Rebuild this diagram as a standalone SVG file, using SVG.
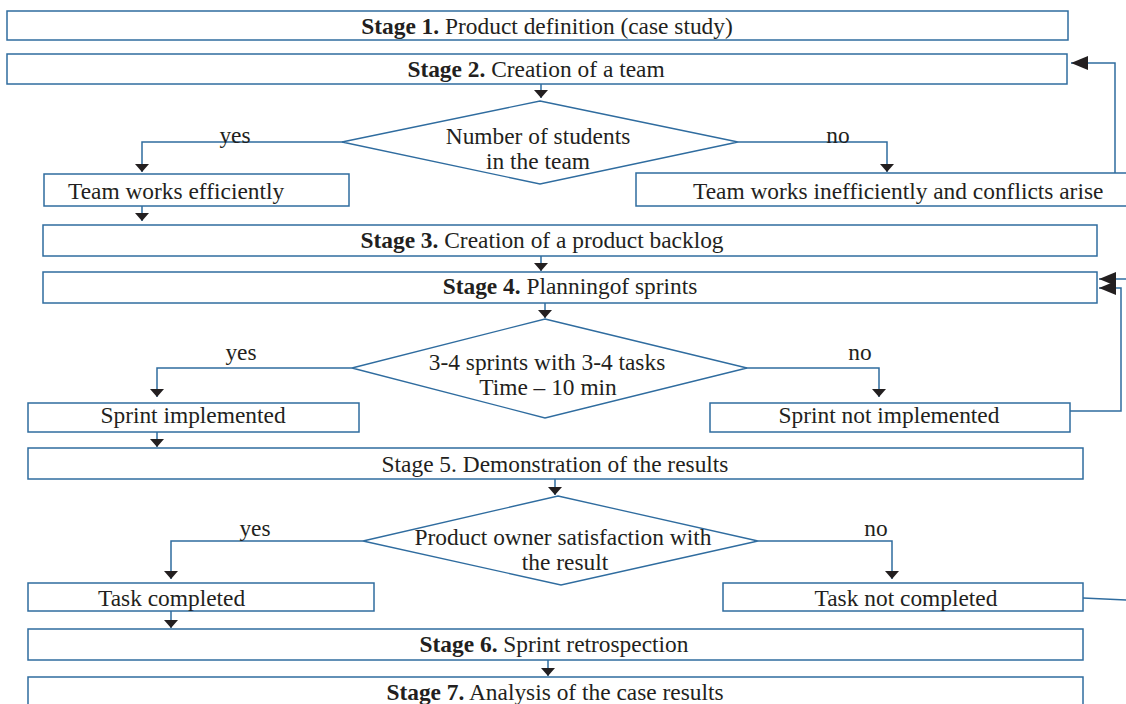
<svg xmlns="http://www.w3.org/2000/svg" width="1126" height="704" viewBox="0 0 1126 704">
<style>
.box{fill:#fff;stroke:#2f6c9f;stroke-width:1.5}
.dia{fill:#fff;stroke:#2f6c9f;stroke-width:1.3}
.ln{fill:none;stroke:#2f6c9f;stroke-width:1.5}
text{font-family:"Liberation Serif","Times New Roman",serif;font-size:23.4px;fill:#231f20}
.b{font-weight:bold}
.m{text-anchor:middle}
</style>
<defs>
<marker id="ah" viewBox="0 0 10 10" refX="10" refY="5" markerWidth="8" markerHeight="14" markerUnits="userSpaceOnUse" orient="auto" preserveAspectRatio="none">
<path d="M0,0 L10,5 L0,10 z" fill="#231f20"/>
</marker>
<marker id="ahl" viewBox="0 0 10 10" refX="10" refY="5" markerWidth="17" markerHeight="14" markerUnits="userSpaceOnUse" orient="auto" preserveAspectRatio="none">
<path d="M0,0 L10,5 L0,10 z" fill="#231f20"/>
</marker>
</defs>
<rect width="1126" height="704" fill="#fff"/>
<g id="connectors">
<path class="ln" d="M541,84 V98" marker-end="url(#ah)"/>
<path class="ln" d="M343,142 H142 V172" marker-end="url(#ah)"/>
<path class="ln" d="M738,142 H887 V172" marker-end="url(#ah)"/>
<path class="ln" d="M142,206 V221" marker-end="url(#ah)"/>
<path class="ln" d="M1115,173 V63 H1071" marker-end="url(#ahl)"/>
<path class="ln" d="M541,256 V271" marker-end="url(#ah)"/>
<path class="ln" d="M545,303 V318" marker-end="url(#ah)"/>
<path class="ln" d="M352,368 H157 V397" marker-end="url(#ah)"/>
<path class="ln" d="M746,368 H879 V397" marker-end="url(#ah)"/>
<path class="ln" d="M1070,411 H1121 V288 H1099" marker-end="url(#ahl)"/>
<path class="ln" d="M1128,279 H1099" marker-end="url(#ahl)"/>
<path class="ln" d="M157,432 V447" marker-end="url(#ah)"/>
<path class="ln" d="M555,479 V495" marker-end="url(#ah)"/>
<path class="ln" d="M363,541 H171 V579" marker-end="url(#ah)"/>
<path class="ln" d="M758,541 H892 V579" marker-end="url(#ah)"/>
<path class="ln" d="M1083,598 L1128,600"/>
<path class="ln" d="M171,611 V628" marker-end="url(#ah)"/>
<path class="ln" d="M548,660 V676" marker-end="url(#ah)"/>
</g>
<g id="stage1">
<rect class="box" x="7" y="11" width="1061" height="29"/>
<text class="m" x="547" y="34"><tspan class="b">Stage 1.</tspan> Product definition (case study)</text>
</g>
<g id="stage2">
<rect class="box" x="7" y="54" width="1060" height="30"/>
<text class="m" x="536" y="77"><tspan class="b">Stage 2.</tspan> Creation of a team</text>
</g>
<g id="decision1">
<polygon class="dia" points="540,101 738,142 540,184 342,142"/>
<text class="m" x="538" y="144">Number of students</text>
<text class="m" x="538" y="169">in the team</text>
<text class="m" x="235" y="143">yes</text>
<text class="m" x="838" y="143">no</text>
</g>
<g id="team-efficient">
<rect class="box" x="44" y="174" width="305" height="32"/>
<text x="68" y="199">Team works efficiently</text>
</g>
<g id="team-inefficient">
<rect class="box" x="636" y="173" width="494" height="33"/>
<text x="693" y="199">Team works inefficiently and conflicts arise</text>
</g>
<g id="stage3">
<rect class="box" x="43" y="225" width="1054" height="31"/>
<text class="m" x="542" y="248"><tspan class="b">Stage 3.</tspan> Creation of a product backlog</text>
</g>
<g id="stage4">
<rect class="box" x="43" y="272" width="1054" height="31"/>
<text class="m" x="570" y="294"><tspan class="b">Stage 4.</tspan> Planningof sprints</text>
</g>
<g id="decision2">
<polygon class="dia" points="545,319 747,368 545,418 352,368"/>
<text class="m" x="547" y="370">3-4 sprints with 3-4 tasks</text>
<text class="m" x="548" y="395">Time – 10 min</text>
<text class="m" x="241" y="360">yes</text>
<text class="m" x="860" y="360">no</text>
</g>
<g id="sprint-implemented">
<rect class="box" x="28" y="403" width="331" height="29"/>
<text class="m" x="193" y="423">Sprint implemented</text>
</g>
<g id="sprint-not-implemented">
<rect class="box" x="710" y="403" width="360" height="29"/>
<text class="m" x="889" y="423">Sprint not implemented</text>
</g>
<g id="stage5">
<rect class="box" x="28" y="448" width="1055" height="31"/>
<text class="m" x="555" y="472">Stage 5. Demonstration of the results</text>
</g>
<g id="decision3">
<polygon class="dia" points="558,496 758,541 561,585 363,541"/>
<text class="m" x="563" y="545">Product owner satisfaction with</text>
<text class="m" x="565" y="570">the result</text>
<text class="m" x="255" y="536">yes</text>
<text class="m" x="876" y="536">no</text>
</g>
<g id="task-completed">
<rect class="box" x="28" y="583" width="346" height="28"/>
<text x="98" y="606">Task completed</text>
</g>
<g id="task-not-completed">
<rect class="box" x="723" y="583" width="360" height="28"/>
<text class="m" x="906" y="606">Task not completed</text>
</g>
<g id="stage6">
<rect class="box" x="28" y="629" width="1055" height="31"/>
<text class="m" x="554" y="652"><tspan class="b">Stage 6.</tspan> Sprint retrospection</text>
</g>
<g id="stage7">
<rect class="box" x="28" y="677" width="1055" height="35"/>
<text class="m" x="555" y="700"><tspan class="b">Stage 7.</tspan> Analysis of the case results</text>
</g>
</svg>
